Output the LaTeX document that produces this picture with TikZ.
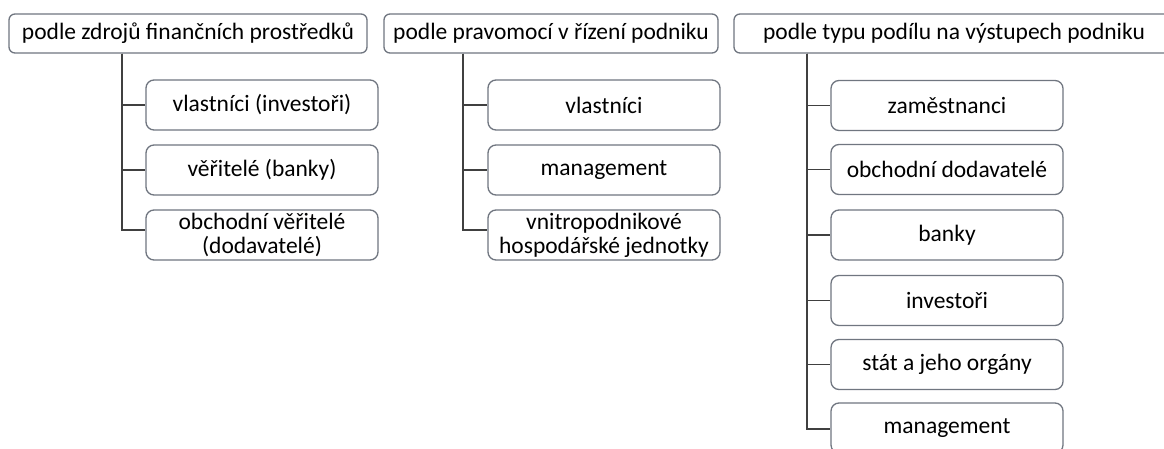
\documentclass[tikz,border=0pt]{standalone}
\usepackage{fontspec}
\setmainfont{Carlito}
\definecolor{boxline}{RGB}{112,118,128}
\definecolor{conline}{RGB}{64,64,64}
\begin{document}
\begin{tikzpicture}[x=1pt,y=-1pt,
  every node/.style={font=\fontsize{23.5}{24}\selectfont, text=black, inner sep=0pt},
  head/.style={draw=boxline, line width=1.3pt, rounded corners=6pt, minimum height=39pt, fill=white},
  child/.style={draw=boxline, line width=1.3pt, rounded corners=8pt, minimum width=232pt, minimum height=50pt, align=center, fill=white},
  conn/.style={draw=conline, line width=1.3pt}]
\useasboundingbox (0,0) rectangle (1164,449);
\clip (0,0) rectangle (1164,449);
\fill[white] (0,0) rectangle (1164,449);
% headers
\node[head, minimum width=358pt] (h1) at (188,33.5) {podle zdrojů finančních prostředků};
\node[head, minimum width=334pt] (h2) at (551,33.5) {podle pravomocí v řízení podniku};
\node[head, minimum width=440pt] (h3) at (954,33.5) {podle typu podílu na výstupech podniku};
% column 1
\node[child] (a1) at (262,105) {vlastníci (investoři)};
\node[child] (a2) at (262,170) {věřitelé (banky)};
\node[child] (a3) at (262,235) {obchodní věřitelé\\(dodavatelé)};
% column 2
\node[child] (b1) at (604,105) {vlastníci};
\node[child] (b2) at (604,170) {management};
\node[child] (b3) at (604,235) {vnitropodnikové\\hospodářské jednotky};
% column 3
\node[child] (c1) at (947,105.5) {zaměstnanci};
\node[child] (c2) at (947,169.5) {obchodní dodavatelé};
\node[child] (c3) at (947,235) {banky};
\node[child] (c4) at (947,300.5) {investoři};
\node[child] (c5) at (947,364.5) {stát a jeho orgány};
\node[child] (c6) at (947,428) {management};
% spine coordinates
\coordinate (s1) at (122,0);
\coordinate (s2) at (463,0);
\coordinate (s3) at (807,0);
% connectors
\draw[conn] (h1.south -| s1) |- (a1.west);
\draw[conn] (h1.south -| s1) |- (a2.west);
\draw[conn] (h1.south -| s1) |- ([yshift=5pt]a3.west);
\draw[conn] (h2.south -| s2) |- (b1.west);
\draw[conn] (h2.south -| s2) |- (b2.west);
\draw[conn] (h2.south -| s2) |- ([yshift=5pt]b3.west);
\draw[conn] (h3.south -| s3) |- (c1.west);
\draw[conn] (h3.south -| s3) |- (c2.west);
\draw[conn] (h3.south -| s3) |- (c3.west);
\draw[conn] (h3.south -| s3) |- (c4.west);
\draw[conn] (h3.south -| s3) |- (c5.west);
\draw[conn] (h3.south -| s3) |- ([yshift=-1pt]c6.west);
\end{tikzpicture}
\end{document}
